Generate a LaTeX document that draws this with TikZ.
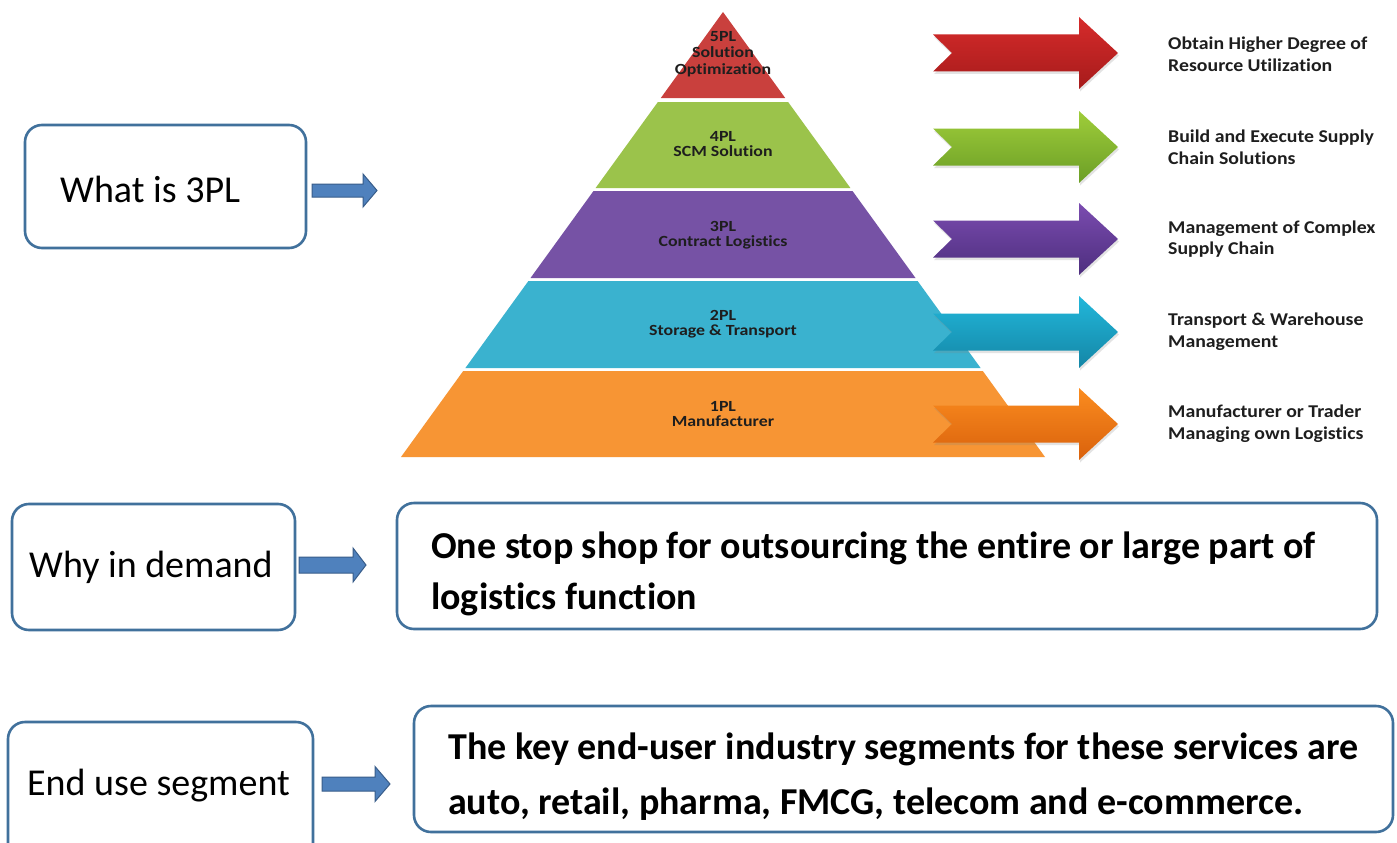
\documentclass[tikz,border=0pt]{standalone}
\usepackage{fontspec}
\setmainfont{Carlito}[Ligatures=NoCommon]
\usetikzlibrary{shadows}

% tier colours of the pyramid
\definecolor{tierRed}{HTML}{C9403D}
\definecolor{tierGreen}{HTML}{9BC34B}
\definecolor{tierPurple}{HTML}{7652A5}
\definecolor{tierBlue}{HTML}{3AB2CF}
\definecolor{tierOrange}{HTML}{F79534}
% gradient pairs for the pointer arrows
\definecolor{redTop}{HTML}{D62B2B}\definecolor{redBot}{HTML}{A61B1B}
\definecolor{greenTop}{HTML}{9FCD3A}\definecolor{greenBot}{HTML}{6B9E26}
\definecolor{purpleTop}{HTML}{7B4CB0}\definecolor{purpleBot}{HTML}{4D2E7E}
\definecolor{blueTop}{HTML}{22B7DA}\definecolor{blueBot}{HTML}{1486A6}
\definecolor{orangeTop}{HTML}{FB8C1F}\definecolor{orangeBot}{HTML}{D9610C}
% boxes and small arrows
\definecolor{boxLine}{HTML}{41719C}
\definecolor{smallFill}{HTML}{4F81BD}
\definecolor{smallLine}{HTML}{385D8A}
\definecolor{labelInk}{HTML}{1E1E1E}

% notched pointer arrow: #1 centre y, #2 top colour, #3 bottom colour
\newcommand\tierarrow[3]{%
  \path[top color=#2, bottom color=#3,
        drop shadow={opacity=0.22, shadow xshift=1pt, shadow yshift=-2.5pt}]
    (933,#1-18.5) -- (1079,#1-18.5) -- (1079,#1-36) -- (1118,#1)
    -- (1079,#1+36) -- (1079,#1+18.5) -- (933,#1+18.5) -- (952,#1) -- cycle;}

% small block arrow: #1 x start, #2 head base x, #3 tip x, #4 centre y, #5 body half, #6 head half
\newcommand\smallarrow[6]{%
  \filldraw[fill=smallFill, draw=smallLine, line width=1pt, line join=miter]
    (#1,#4-#5) -- (#2,#4-#5) -- (#2,#4-#6) -- (#3,#4) -- (#2,#4+#6)
    -- (#2,#4+#5) -- (#1,#4+#5) -- cycle;}

\tikzset{
  tierlabel/.style={align=center, text=labelInk, inner sep=0pt,
    xscale=1.15, transform shape,
    font=\bfseries\fontsize{15.5}{15.5}\selectfont},
  sidelabel/.style={anchor=west, align=left, text=labelInk, inner sep=0pt,
    xscale=1.1, transform shape,
    font=\bfseries\fontsize{18}{21.7}\selectfont},
  roundbox/.style={draw=boxLine, line width=2.6pt, rounded corners=17pt, fill=white},
  boxtext/.style={anchor=west, inner sep=0pt, text=black,
    font=\fontsize{38}{44}\selectfont},
  bigtext/.style={anchor=west, align=left, inner sep=0pt, text=black,
    font=\bfseries\fontsize{38}{51}\selectfont},
}

\begin{document}
\begin{tikzpicture}[x=1pt, y=-1pt]
\useasboundingbox (0,0) rectangle (1397,843);
\clip (0,0) rectangle (1397,843);
\fill[white] (0,0) rectangle (1397,843);

% ---- pyramid tiers ----
\fill[tierRed]    (723,12) -- (785.2,98) -- (660.8,98) -- cycle;
\fill[tierGreen]  (657.9,102) -- (788.1,102) -- (850.4,188) -- (595.6,188) -- cycle;
\fill[tierPurple] (593.5,191) -- (852.5,191) -- (915.5,278) -- (530.5,278) -- cycle;
\fill[tierBlue]   (528.4,281) -- (917.6,281) -- (980.6,368) -- (465.4,368) -- cycle;
\fill[tierOrange] (463.2,371) -- (982.8,371) -- (1045,457) -- (401,457) -- cycle;

\node[tierlabel, font=\bfseries\fontsize{15.5}{16.5}\selectfont] (t5) at (723,54) {5PL\\Solution\\Optimization};
\node[tierlabel] (t4) at (723,144) {4PL\\SCM Solution};
\node[tierlabel] (t3) at (723,235) {3PL\\Contract Logistics};
\node[tierlabel] (t2) at (723,324) {2PL\\Storage \& Transport};
\node[tierlabel] (t1) at (723,414) {1PL\\Manufacturer};

% ---- pointer arrows ----
\tierarrow{53}{redTop}{redBot}
\tierarrow{147}{greenTop}{greenBot}
\tierarrow{239}{purpleTop}{purpleBot}
\tierarrow{332}{blueTop}{blueBot}
\tierarrow{424}{orangeTop}{orangeBot}

% ---- descriptions ----
\node[sidelabel] (d5) at (1168,54)  {Obtain Higher Degree of\\Resource Utilization};
\node[sidelabel] (d4) at (1168,147) {Build and Execute Supply\\Chain Solutions};
\node[sidelabel] (d3) at (1168,239) {Management of Complex\\Supply Chain};
\node[sidelabel] (d2) at (1168,332) {Transport \& Warehouse\\Management};
\node[sidelabel] (d1) at (1168,424) {Manufacturer or Trader\\Managing own Logistics};

% ---- left-hand questions ----
\draw[roundbox] (25,125) rectangle (306,248);
\node[boxtext] (q1) at (60,189) {What is 3PL};
\smallarrow{312}{363}{377}{190.5}{6.5}{16.5}

\draw[roundbox] (12,504) rectangle (295,630);
\node[boxtext] (q2) at (29,567) {Why in demand};
\smallarrow{299}{353}{366}{565}{8}{17}

\draw[roundbox] (8,722) rectangle (313,880);
\node[boxtext] (q3) at (27,786) {End use segment};
\smallarrow{322}{375}{390}{784}{7}{17.5}

% ---- answers ----
\draw[roundbox] (397,503) rectangle (1377,629);
\node[bigtext] (a2) at (431,574) {One stop shop for outsourcing the entire or large part of\\logistics function};

\draw[roundbox] (414,706) rectangle (1393,832);
\node[bigtext, font=\bfseries\fontsize{38}{55}\selectfont] (a3) at (448,777) {The key end-user industry segments for these services are\\auto, retail, pharma, FMCG, telecom and e-commerce.};
\end{tikzpicture}
\end{document}
